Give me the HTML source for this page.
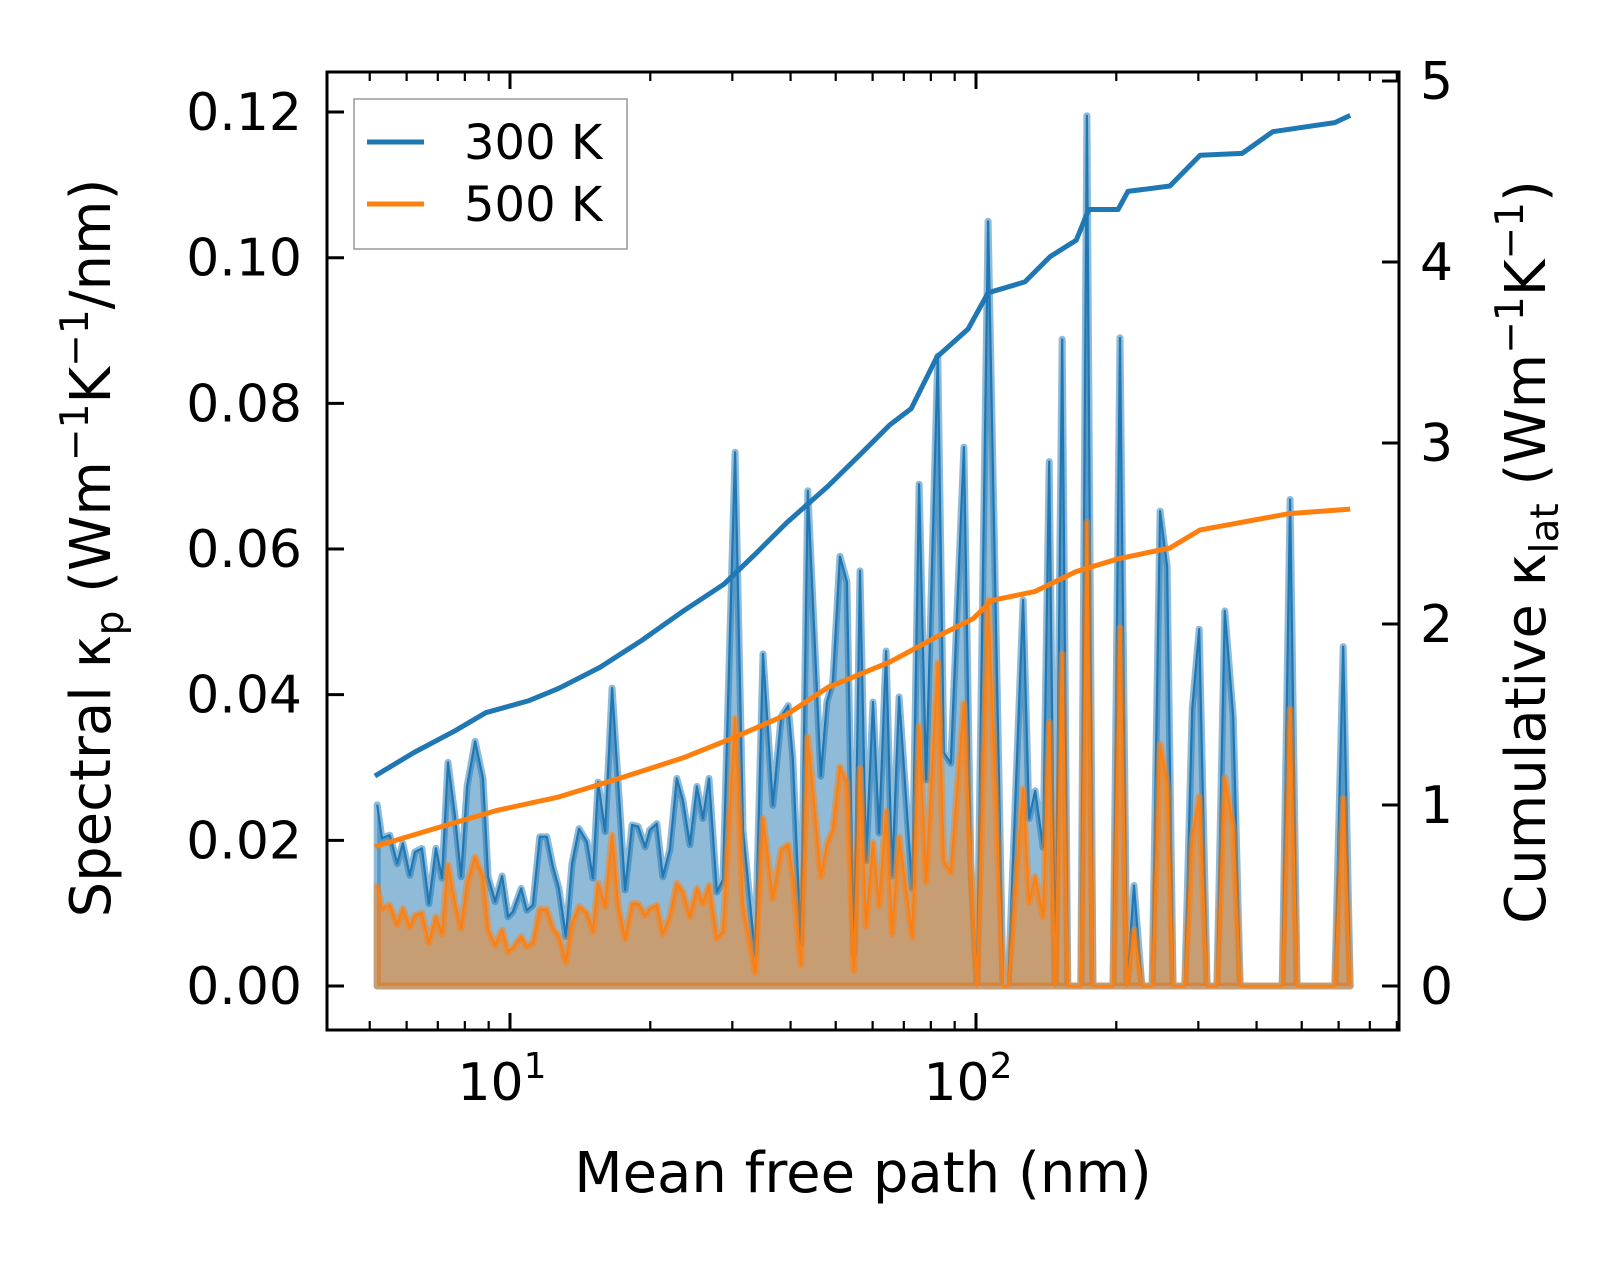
<!DOCTYPE html>
<html>
<head>
<meta charset="utf-8">
<style>
  html,body{margin:0;padding:0;background:#fff;}
  svg{display:block;}
  text{font-family:"DejaVu Sans","Liberation Sans",sans-serif;fill:#000;}
</style>
</head>
<body>
<svg id="chart" width="1623" height="1268" viewBox="0 0 1623 1268" xmlns="http://www.w3.org/2000/svg">
  <rect x="0" y="0" width="1623" height="1268" fill="#fff"/>
  <g id="plot"></g>
  <g id="axes"></g>
  <g id="legend"></g>
</svg>
<script>
// ---- data ----
const mfpLog10 = [0.715,0.725,0.742,0.758,0.770,0.785,0.796,0.811,0.826,0.841,0.854,0.867,0.882,0.895,0.908,0.925,0.942,0.953,0.968,0.983,0.996,1.006,1.024,1.036,1.049,1.064,1.079,1.092,1.105,1.120,1.133,1.148,1.165,1.178,1.189,1.204,1.219,1.232,1.247,1.262,1.275,1.290,1.300,1.315,1.328,1.343,1.358,1.371,1.386,1.401,1.414,1.427,1.444,1.457,1.483,1.500,1.526,1.543,1.564,1.582,1.597,1.607,1.624,1.639,1.667,1.680,1.693,1.708,1.723,1.738,1.751,1.764,1.779,1.792,1.807,1.820,1.835,1.863,1.878,1.893,1.918,1.931,1.946,1.974,1.989,2.002,2.026,2.058,2.069,2.101,2.114,2.127,2.144,2.157,2.170,2.185,2.197,2.225,2.238,2.251,2.294,2.309,2.324,2.339,2.356,2.378,2.395,2.410,2.423,2.448,2.464,2.479,2.496,2.517,2.534,2.552,2.567,2.657,2.674,2.689,2.770,2.788,2.803];
const spectral300 = [.0249,.0203,.0207,.0168,.0196,.0152,.0184,.0189,.0113,.0189,.0148,.0307,.0233,.0150,.0274,.0336,.0285,.0150,.0116,.0151,.0095,.0102,.0134,.0104,.0111,.0205,.0205,.0164,.0134,.0068,.0168,.0216,.0198,.0148,.0280,.0212,.0409,.0280,.0132,.0221,.0219,.0191,.0214,.0223,.0150,.0187,.0285,.0255,.0194,.0274,.0230,.0285,.0129,.0146,.0733,.0214,.0043,.0456,.0248,.0370,.0385,.0310,.0058,.0680,.0288,.0390,.0418,.0590,.0555,.0045,.0570,.0172,.0390,.0210,.0460,.0151,.0397,.0134,.0689,.0283,.0865,.0320,.0306,.0740,.0166,0,.1050,0,0,.0530,.0230,.0268,.0190,.0720,0,.0888,0,0,.1195,0,0,.0890,0,.0138,0,0,.0652,.0576,0,0,.0380,.0490,0,0,.0515,.0370,0,0,.0668,0,0,.0466,0];
const spectral500 = [.0137,.0106,.0111,.0084,.0106,.0081,.0097,.0100,.0059,.0095,.0072,.0166,.0113,.0079,.0141,.0177,.0150,.0077,.0056,.0077,.0047,.0052,.0068,.0054,.0059,.0105,.0105,.0079,.0068,.0033,.0086,.0109,.0100,.0075,.0141,.0109,.0207,.0111,.0065,.0113,.0113,.0097,.0106,.0111,.0072,.0095,.0141,.0129,.0095,.0134,.0113,.0138,.0065,.0075,.0368,.0109,.0019,.0230,.0120,.0187,.0194,.0150,.0029,.0342,.0150,.0194,.0215,.0301,.0280,.0021,.0299,.0082,.0197,.0110,.0240,.0072,.0204,.0067,.0357,.0143,.0444,.0171,.0156,.0388,.0161,0,.0530,0,0,.0271,.0115,.0150,.0095,.0362,0,.0456,0,0,.0637,0,0,.0492,0,.0077,0,0,.0332,.0278,0,0,.0202,.0260,0,0,.0286,.0217,0,0,.0380,0,0,.0258,0];
const cumLog300 = [0.710,0.794,0.882,0.948,1.039,1.105,1.193,1.283,1.371,1.459,1.528,1.594,1.682,1.749,1.815,1.861,1.916,1.983,2.026,2.105,2.159,2.215,2.242,2.305,2.326,2.416,2.481,2.571,2.637,2.770,2.803];
const cum300 = [1.16,1.29,1.41,1.51,1.575,1.645,1.76,1.91,2.07,2.22,2.39,2.56,2.76,2.93,3.10,3.19,3.475,3.63,3.83,3.89,4.03,4.12,4.29,4.29,4.39,4.42,4.59,4.60,4.72,4.77,4.81];
const cumLog500 = [0.710,0.839,0.972,1.105,1.238,1.371,1.483,1.594,1.682,1.815,1.916,1.994,2.034,2.127,2.215,2.305,2.416,2.481,2.672,2.803];
const cum500 = [0.77,0.87,0.97,1.045,1.15,1.26,1.375,1.50,1.65,1.79,1.93,2.03,2.13,2.18,2.29,2.36,2.42,2.52,2.61,2.635];
const leftTicks = [0,0.02,0.04,0.06,0.08,0.10,0.12];
const leftTickLabels = ["0.00","0.02","0.04","0.06","0.08","0.10","0.12"];
const rightTicks = [0,1,2,3,4,5];
const rightTickLabels = ["0","1","2","3","4","5"];

// ---- geometry ----
const PL=327, PR=1399, PT=72, PB=1030;
const X0=510, DEC=466;
const Y0=986, YPU=7283;
const RPU=181;
const xs = l => X0 + (l-1)*DEC;
const yl = v => Y0 - v*YPU;
const yr = v => Y0 - v*RPU;
const NS="http://www.w3.org/2000/svg";
function mk(tag, attrs, parent){
  const e=document.createElementNS(NS,tag);
  for(const k in attrs) e.setAttribute(k,attrs[k]);
  parent.appendChild(e); return e;
}
const plot=document.getElementById('plot');
const axes=document.getElementById('axes');
const legend=document.getElementById('legend');

function drawSpectral(vals, color, fillOp, name){
  const pts = mfpLog10.map((l,i)=>xs(l).toFixed(1)+','+yl(vals[i]).toFixed(1));
  const first=xs(mfpLog10[0]), last=xs(mfpLog10[mfpLog10.length-1]);
  const area=mk('polygon',{points:first+','+Y0+' '+pts.join(' ')+' '+last+','+Y0,fill:color,'fill-opacity':fillOp,stroke:color,'stroke-opacity':0.5,'stroke-width':7,'stroke-linejoin':'round'},plot);
  
  
  const line=mk('polyline',{points:pts.join(' '),fill:'none',stroke:color,'stroke-width':2.2,'stroke-linejoin':'round'},plot);
  
  
}
drawSpectral(spectral300,'#1f77b4',0.5,'spectral-300k');
drawSpectral(spectral500,'#ff7f0e',0.5,'spectral-500k');

function drawCum(ls, vals, color, name){
  const pts = ls.map((l,i)=>xs(l).toFixed(1)+','+yr(vals[i]).toFixed(1));
  const line=mk('polyline',{points:pts.join(' '),fill:'none',stroke:color,'stroke-width':5,'stroke-linejoin':'round'},plot);
  
  
}
drawCum(cumLog300,cum300,'#1f77b4','cumulative-300k-line');
drawCum(cumLog500,cum500,'#ff7f0e','cumulative-500k-line');

const frame=mk('rect',{x:PL,y:PT,width:PR-PL,height:PB-PT,fill:'none',stroke:'#000','stroke-width':3},axes);



leftTicks.forEach((v,i)=>{
  const y=yl(v);
  const t=mk('line',{x1:PL,x2:PL+17,y1:y,y2:y,stroke:'#000','stroke-width':3},axes);
  
  
  const lb=mk('text',{x:302,y:y+18,'text-anchor':'end','font-size':52},axes);
  lb.textContent=leftTickLabels[i];
  
  
});
rightTicks.forEach((v,i)=>{
  const y=yr(v);
  const t=mk('line',{x1:PR-17,x2:PR,y1:y,y2:y,stroke:'#000','stroke-width':3},axes);
  
  
  const lb=mk('text',{x:1420,y:y+18,'text-anchor':'start','font-size':52},axes);
  lb.textContent=rightTickLabels[i];
  
  
});
for(let d=0; d<=2; d++){
  for(let m=1; m<=9; m++){
    const l=d+Math.log10(m);
    const x=xs(l);
    if(x<PL+2||x>PR-2) continue;
    const len = m===1?17:9;
    [[PB,PB-len],[PT,PT+len]].forEach(([a,b])=>{
      const t=mk('line',{x1:x,x2:x,y1:a,y2:b,stroke:'#000','stroke-width':m===1?3:2.2},axes);
      
      
    });
  }
}
[[1,'1'],[2,'2']].forEach(([p,s])=>{
  const g=mk('text',{x:xs(p)-8,y:1100,'text-anchor':'middle','font-size':52},axes);
  g.textContent='10';
  const sup=mk('tspan',{dy:-22,'font-size':36},g);
  sup.textContent=s;
  
  
});

const xt=mk('text',{x:863,y:1192,'text-anchor':'middle','font-size':56},axes);
xt.textContent='Mean free path (nm)';



const ytl=mk('text',{transform:'translate(110,548) rotate(-90)','text-anchor':'middle','font-size':56},axes);
ytl.innerHTML='Spectral κ<tspan font-size="39" dy="13">p</tspan><tspan dy="-13"> (Wm</tspan><tspan font-size="39" dy="-22">−1</tspan><tspan dy="22">K</tspan><tspan font-size="39" dy="-22">−1</tspan><tspan dy="22">/nm)</tspan>';



const ytr=mk('text',{transform:'translate(1545,552) rotate(-90)','text-anchor':'middle','font-size':56},axes);
ytr.innerHTML='Cumulative κ<tspan font-size="39" dy="13">lat</tspan><tspan dy="-13"> (Wm</tspan><tspan font-size="39" dy="-22">−1</tspan><tspan dy="22">K</tspan><tspan font-size="39" dy="-22">−1</tspan><tspan dy="22">)</tspan>';



const lbox=mk('rect',{x:354,y:99,width:273,height:150,fill:'#fff',stroke:'#999','stroke-width':1.5},legend);


[['300 K','#1f77b4',142],['500 K','#ff7f0e',204]].forEach(([lab,c,y])=>{
  const ln=mk('line',{x1:367,x2:424,y1:y,y2:y,stroke:c,'stroke-width':5},legend);
  
  
  const tx=mk('text',{x:464,y:y+17,'font-size':48},legend);
  tx.textContent=lab;
  
  
});
</script>
</body>
</html>
